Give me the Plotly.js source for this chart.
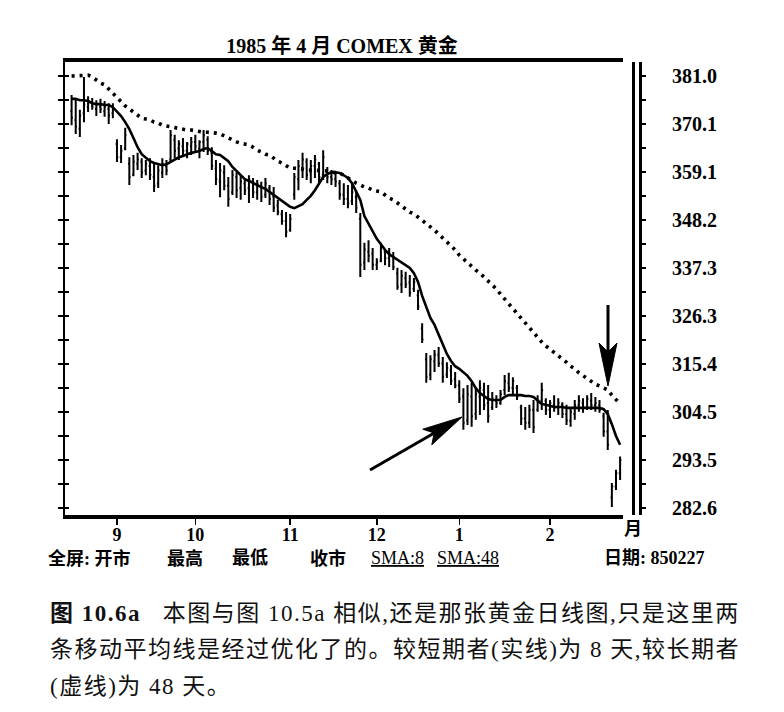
<!DOCTYPE html>
<html><head><meta charset="utf-8">
<script src="https://cdn.plot.ly/plotly-3.0.1.min.js"></script>
<style>html,body{margin:0;padding:0;background:#fff}#chart{width:784px;height:712px}</style>
</head><body><div id="chart"></div>
<script>
// ---------- data ----------
const startDate = "1984-08-17";
const holidays = ["1984-09-03","1984-11-22","1984-12-25","1985-01-01","1985-02-18"];
const monthLabels = ["9","10","11","12","1","2"];
const priceLabels = [381.0,370.1,359.1,348.2,337.3,326.3,315.4,304.5,293.5,282.6];

const high = [
 376.7,375.8,373.3,380.8,376.4,376.0,375.5,375.8,375.3,374.8,374.8,
 366.6,365.3,369.2,362.5,363.0,363.5,362.3,361.9,362.3,361.2,360.7,362.3,361.9,368.7,367.6,366.4,366.9,366.0,367.1,
 367.6,366.4,368.7,367.3,364.8,361.9,361.2,360.7,358.0,359.6,359.1,358.4,357.8,358.4,357.8,357.3,356.9,357.8,356.2,355.7,352.8,350.5,350.0,
 349.6,358.9,361.9,363.5,362.3,361.9,363.0,361.4,364.1,360.3,359.6,359.1,357.3,356.6,356.2,356.6,355.0,349.8,343.0,343.6,341.8,
 339.5,343.0,341.4,341.8,340.9,337.3,336.8,336.4,335.7,335.0,332.3,324.7,317.9,317.4,318.6,319.3,317.0,315.8,315.2,313.6,
 311.7,309.9,310.6,311.1,309.9,311.7,311.1,310.6,309.0,308.3,309.5,312.9,313.4,312.4,310.6,306.1,305.6,306.1,307.2,308.3,311.1,307.6,
 307.2,308.3,307.6,306.7,306.1,305.4,307.2,308.3,307.6,308.3,308.8,307.9,307.2,304.3,304.9,288.3,291.3,294.3];
const low = [
 369.8,367.8,367.1,370.5,372.8,373.3,371.9,372.6,371.7,370.1,371.4,
 361.4,361.2,364.1,356.2,358.2,359.6,357.8,358.4,357.3,354.6,355.5,357.8,358.4,361.4,362.3,361.9,362.8,362.3,363.0,
 363.7,362.3,363.7,363.0,359.6,356.2,353.4,355.0,351.2,353.9,353.2,352.8,353.9,352.1,353.2,352.8,352.3,353.2,351.6,350.0,349.3,347.1,344.3,
 345.5,352.8,355.0,357.8,357.3,356.6,357.8,356.6,357.3,356.6,356.2,355.7,352.8,351.6,350.9,351.6,349.8,335.2,336.8,338.6,336.8,
 336.8,338.6,337.9,337.5,336.8,332.3,331.6,332.7,330.7,331.8,327.7,320.2,311.1,311.7,313.6,314.7,311.1,312.2,310.6,309.9,
 306.5,300.4,301.5,301.1,302.7,303.8,304.9,302.0,304.9,305.4,306.1,308.3,309.0,308.3,307.2,301.5,300.4,300.8,299.7,304.5,304.9,303.8,
 303.1,304.5,303.8,303.1,301.5,301.1,302.7,304.5,304.3,304.9,304.9,304.5,304.3,298.8,295.8,282.8,286.7,289.0];
const open = [
 373.0,371.0,369.0,372.5,374.0,375.0,373.5,374.0,373.0,373.5,372.5,
 365.5,362.5,364.5,361.0,358.5,361.0,361.5,359.5,360.5,358.0,356.5,359.0,360.5,362.0,366.5,364.5,365.0,364.0,365.0,
 366.0,364.5,366.0,366.5,363.5,360.0,357.0,359.0,356.0,354.5,358.0,355.5,356.5,355.5,357.0,354.5,356.0,354.0,355.5,353.5,351.5,349.5,348.0,
 346.0,354.0,357.5,360.0,361.5,359.0,360.5,361.0,358.5,359.5,358.0,357.5,356.5,354.0,353.0,352.5,353.5,348.5,338.5,341.0,340.5,
 338.0,339.0,341.0,339.5,340.0,336.0,333.5,335.0,334.0,332.5,331.0,323.5,316.5,313.0,316.0,317.5,315.5,313.0,314.0,312.0,
 310.5,308.0,302.5,308.0,304.0,308.0,309.5,306.5,305.5,307.0,306.5,309.5,311.0,310.0,310.0,305.5,303.0,302.0,305.0,305.0,307.0,307.0,
 305.0,306.0,305.5,306.0,304.0,302.5,304.0,306.0,306.5,305.5,307.0,306.0,306.0,303.5,300.0,285.0,287.5,290.5];
const close = [
 371.5,369.5,372.0,374.5,375.0,374.0,374.5,373.5,374.0,372.0,373.5,
 362.5,364.0,367.5,358.0,361.5,362.0,359.0,361.0,358.5,356.0,359.5,361.0,359.5,367.5,364.0,365.5,364.0,365.5,366.0,
 365.0,366.0,367.5,364.0,360.5,357.5,359.5,356.0,353.0,358.5,355.0,357.0,355.0,357.5,354.5,356.5,353.5,356.5,353.0,351.0,350.0,348.0,345.5,
 348.5,358.0,360.5,362.0,358.5,360.5,362.0,358.0,362.5,358.0,357.5,357.0,354.0,353.0,352.0,354.5,351.0,338.0,341.5,340.0,338.0,
 338.5,342.0,339.5,340.5,337.5,333.0,335.5,333.5,331.5,334.0,328.5,321.0,312.5,316.5,317.5,315.5,312.5,314.5,311.5,310.5,
 307.5,302.0,308.5,303.5,308.5,310.0,306.0,303.5,307.5,306.5,308.5,311.5,310.0,311.5,308.0,303.0,302.0,305.0,301.0,307.0,309.5,305.0,
 306.5,305.5,306.5,304.0,302.5,304.5,306.0,307.0,305.5,307.5,306.0,306.5,305.0,300.0,297.0,287.5,290.5,293.5];
const sma8 = [
 375.8,375.8,375.5,375.5,375.3,374.8,374.6,374.6,374.4,374.4,373.9,
 373.0,371.9,370.5,368.9,366.9,364.8,363.2,362.3,361.6,361.2,360.9,360.7,360.9,361.4,361.9,362.5,362.8,363.2,363.5,
 363.7,363.9,364.4,364.6,363.9,363.2,363.0,362.3,361.6,360.3,359.4,358.4,357.5,357.1,356.6,356.2,355.7,355.3,354.6,354.1,353.4,352.5,351.8,
 351.2,350.9,351.4,351.8,352.8,353.7,355.0,356.4,358.0,358.7,359.1,359.1,358.9,358.4,357.8,356.6,354.8,352.8,349.1,347.3,345.5,
 343.9,342.7,341.4,340.4,339.8,339.1,338.6,337.9,337.3,336.1,334.1,330.9,328.2,325.9,324.3,322.2,319.7,317.7,316.1,314.9,
 314.3,313.4,312.7,311.5,309.9,308.8,308.1,307.4,307.2,307.2,307.2,307.9,308.3,308.3,308.3,308.3,308.1,308.1,307.9,307.0,306.3,306.1,
 305.8,305.6,305.6,305.6,305.4,305.4,305.4,305.4,305.4,305.4,305.4,305.4,305.4,305.1,304.0,301.7,299.0,297.0];
const sma48 = [
 381.0,381.0,381.2,381.2,381.2,380.8,380.1,379.4,379.0,378.0,377.1,
 376.2,375.1,374.2,373.5,372.8,371.9,371.4,371.2,371.0,370.5,370.3,369.8,369.6,369.6,369.4,369.2,368.9,368.7,368.7,
 368.5,368.2,368.2,368.2,368.2,368.0,367.8,367.3,366.9,366.4,366.0,365.7,365.5,365.3,364.8,364.1,363.7,363.2,363.0,362.3,361.6,361.2,360.5,
 360.0,360.0,360.0,359.8,359.6,359.6,359.6,359.6,359.6,359.4,359.1,359.1,358.9,358.4,357.8,357.1,356.6,356.2,355.7,355.5,355.0,
 354.8,354.6,353.9,353.2,352.8,352.1,351.4,350.9,350.0,349.6,348.9,348.2,347.5,346.6,345.9,345.0,344.1,343.2,342.3,341.4,
 340.2,339.3,338.4,337.5,336.8,336.1,335.2,334.3,333.4,332.5,331.3,330.2,329.1,328.0,326.8,325.9,324.7,323.4,322.5,321.3,320.4,319.5,
 318.8,318.1,317.4,316.5,315.8,314.9,314.3,313.4,312.7,312.0,311.5,310.8,310.4,309.9,309.5,308.3,307.2,306.3];

// ---------- trading-day calendar ----------
const dates = [];
(function(){
  const p = startDate.split('-').map(Number);
  const d = new Date(Date.UTC(p[0], p[1]-1, p[2]));
  while (dates.length < high.length) {
    const s = d.toISOString().slice(0,10), w = d.getUTCDay();
    if (w !== 0 && w !== 6 && holidays.indexOf(s) < 0) dates.push(s);
    d.setUTCDate(d.getUTCDate()+1);
  }
})();
const xi = dates.map((_, i) => i);
const monthTicks = xi.filter(i => i > 0 && dates[i].slice(5,7) !== dates[i-1].slice(5,7));

// y ticks: labelled ticks and the half-step ticks between them
const yTicks = priceLabels.slice();
for (let k = 0; k < priceLabels.length - 1; k++) yTicks.push((priceLabels[k] + priceLabels[k+1]) / 2);

// ---------- layout geometry (pixels -> paper) ----------
const W = 784, H = 712, L = 65, R = 680, T = 62, B = 515;
const PW = R - L, PH = B - T;
const fx = p => (p - L) / PW;
const fy = p => (B - p) / PH;
const YR = [281.0, 384.2];
const XR = [-1.6, 133.7];

const SERIF = "Liberation Serif, Noto Sans CJK SC, serif";
const CJK = "Liberation Serif, Noto Sans CJK SC, sans-serif";

const traces = [
  { type: 'ohlc', x: xi, open: open, high: high, low: low, close: close, text: dates,
    increasing: { line: { color: '#000', width: 2 } },
    decreasing: { line: { color: '#000', width: 2 } },
    tickwidth: 0.32, hoverinfo: 'x+text', showlegend: false },
  { type: 'scatter', mode: 'lines', x: xi, y: sma48, name: 'SMA:48',
    line: { color: '#000', width: 3.6, dash: '3px,5px' }, showlegend: false, hoverinfo: 'skip' },
  { type: 'scatter', mode: 'lines', x: xi, y: sma8, name: 'SMA:8',
    line: { color: '#000', width: 2.6 }, showlegend: false, hoverinfo: 'skip' },
  { type: 'scatter', x: [], y: [], yaxis: 'y2', showlegend: false, hoverinfo: 'skip' },
  { type: 'scatter', x: [], y: [], yaxis: 'y3', showlegend: false, hoverinfo: 'skip' },
  { type: 'scatter', x: [], y: [], yaxis: 'y4', showlegend: false, hoverinfo: 'skip' },
  { type: 'scatter', x: [], y: [], yaxis: 'y5', showlegend: false, hoverinfo: 'skip' }
];

const ann = [];
function txt(text, px, py, anchor, font, name) {
  ann.push({ text: text, x: fx(px), y: fy(py), xref: 'paper', yref: 'paper', name: name || '',
    xanchor: anchor || 'left', yanchor: 'middle', align: 'left', showarrow: false,
    font: Object.assign({ family: CJK, size: 18, color: '#000' }, font || {}) });
}
// legend row
txt('<b>全屏: 开市</b>', 46, 558);
txt('<b>最高</b>', 165, 558);
txt('<b>最低</b>', 230, 558);
txt('<b>收市</b>', 308, 558);
txt('<u>SMA:8</u>', 369, 558, 'left', { family: SERIF, size: 18 });
txt('<u>SMA:48</u>', 435, 558, 'left', { family: SERIF, size: 18 });
txt('<b>日期: 850227</b>', 602, 558);
txt('<b>月</b>', 633, 529, 'center');
// caption
const capFont = { family: CJK, size: 23, color: '#111' };
txt('<b>图 10.6a</b>   本图与图 10.5a 相似,还是那张黄金日线图,只是这里两', 48, 613, 'left', capFont, 'cap');
txt('条移动平均线是经过优化了的。较短期者(实线)为 8 天,较长期者', 48, 649, 'left', capFont, 'cap');
txt('(虚线)为 48 天。', 48, 686, 'left', capFont, 'cap');

// arrows (pixel geometry converted to paper coordinates)
function pth(pts) { return 'M' + pts.map(p => fx(p[0]).toFixed(5) + ',' + fy(p[1]).toFixed(5)).join(' L') + ' Z'; }
const shapes = [
  { type: 'line', xref: 'paper', yref: 'paper', x0: fx(370), y0: fy(470), x1: fx(436), y1: fy(432),
    line: { color: '#000', width: 3 } },
  { type: 'path', xref: 'paper', yref: 'paper', path: pth([[462,417],[431.8,444.8],[434.2,433],[422.8,429.2]]),
    fillcolor: '#000', line: { color: '#000', width: 1 } },
  { type: 'line', xref: 'paper', yref: 'paper', x0: fx(608), y0: fy(305), x1: fx(608), y1: fy(352),
    line: { color: '#000', width: 3 } },
  { type: 'path', xref: 'paper', yref: 'paper', path: pth([[608,386],[599,343],[608,352],[617,343]]),
    fillcolor: '#000', line: { color: '#000', width: 1 } }
];

const yBase = { range: YR, showgrid: false, zeroline: false, fixedrange: true };
const layout = {
  width: W, height: H,
  margin: { l: L, r: W - R, t: T, b: H - B, pad: 0 },
  paper_bgcolor: '#fff', plot_bgcolor: '#fff',
  showlegend: false,
  title: { text: '<b>1985 年 4 月 COMEX 黄金</b>', xref: 'paper', x: fx(342), xanchor: 'center',
    yref: 'container', y: 1 - 46 / H, yanchor: 'middle',
    font: { family: CJK, size: 20, color: '#000' } },
  xaxis: { domain: [0, fx(623)], range: XR, showline: true, linewidth: 4, linecolor: '#000', mirror: true,
    rangeslider: { visible: false },
    ticks: 'outside', ticklen: 6, tickwidth: 1.5, tickcolor: '#000',
    tickmode: 'array', tickvals: monthTicks, ticktext: monthLabels, ticklabelstandoff: -6,
    tickfont: { family: SERIF, size: 18, color: '#000', weight: 'bold' },
    showgrid: false, zeroline: false, fixedrange: true },
  yaxis: Object.assign({}, yBase, { showline: true, linewidth: 2, linecolor: '#000',
    ticks: 'outside', ticklen: 5, tickwidth: 2, tickcolor: '#000',
    tickmode: 'array', tickvals: yTicks, showticklabels: false }),
  yaxis3: Object.assign({}, yBase, { overlaying: 'y', anchor: 'x', side: 'left', showline: false,
    ticks: 'inside', ticklen: 4, tickwidth: 2, tickcolor: '#000',
    tickmode: 'array', tickvals: yTicks, showticklabels: false }),
  yaxis2: Object.assign({}, yBase, { overlaying: 'y', anchor: 'free', position: fx(637), side: 'right',
    showline: true, linewidth: 10, linecolor: '#000',
    ticks: 'outside', ticklen: 4, tickwidth: 2, tickcolor: '#000',
    tickmode: 'array', tickvals: yTicks, showticklabels: false }),
  yaxis4: Object.assign({}, yBase, { overlaying: 'y', anchor: 'free', position: fx(637), side: 'right',
    showline: true, linewidth: 4, linecolor: '#fff', ticks: '', showticklabels: false }),
  yaxis5: Object.assign({}, yBase, { overlaying: 'y', anchor: 'free', position: fx(671), side: 'right',
    showline: false, ticks: '', tickmode: 'array', tickvals: priceLabels,
    ticktext: priceLabels.map(v => v.toFixed(1)),
    tickfont: { family: SERIF, size: 20, color: '#000', weight: 'bold' } }),
  annotations: ann,
  shapes: shapes
};

Plotly.newPlot('chart', traces, layout, { displayModeBar: false, staticPlot: true }).then(function (gd) {
  // book-style letter spacing for the caption lines
  gd.querySelectorAll('.annotation').forEach(function (g) {
    const idx = +g.getAttribute('data-index');
    if (ann[idx] && ann[idx].name === 'cap') {
      g.querySelectorAll('text').forEach(function (t) { t.style.letterSpacing = '1.5px'; });
    }
  });
});
</script>
</body></html>
